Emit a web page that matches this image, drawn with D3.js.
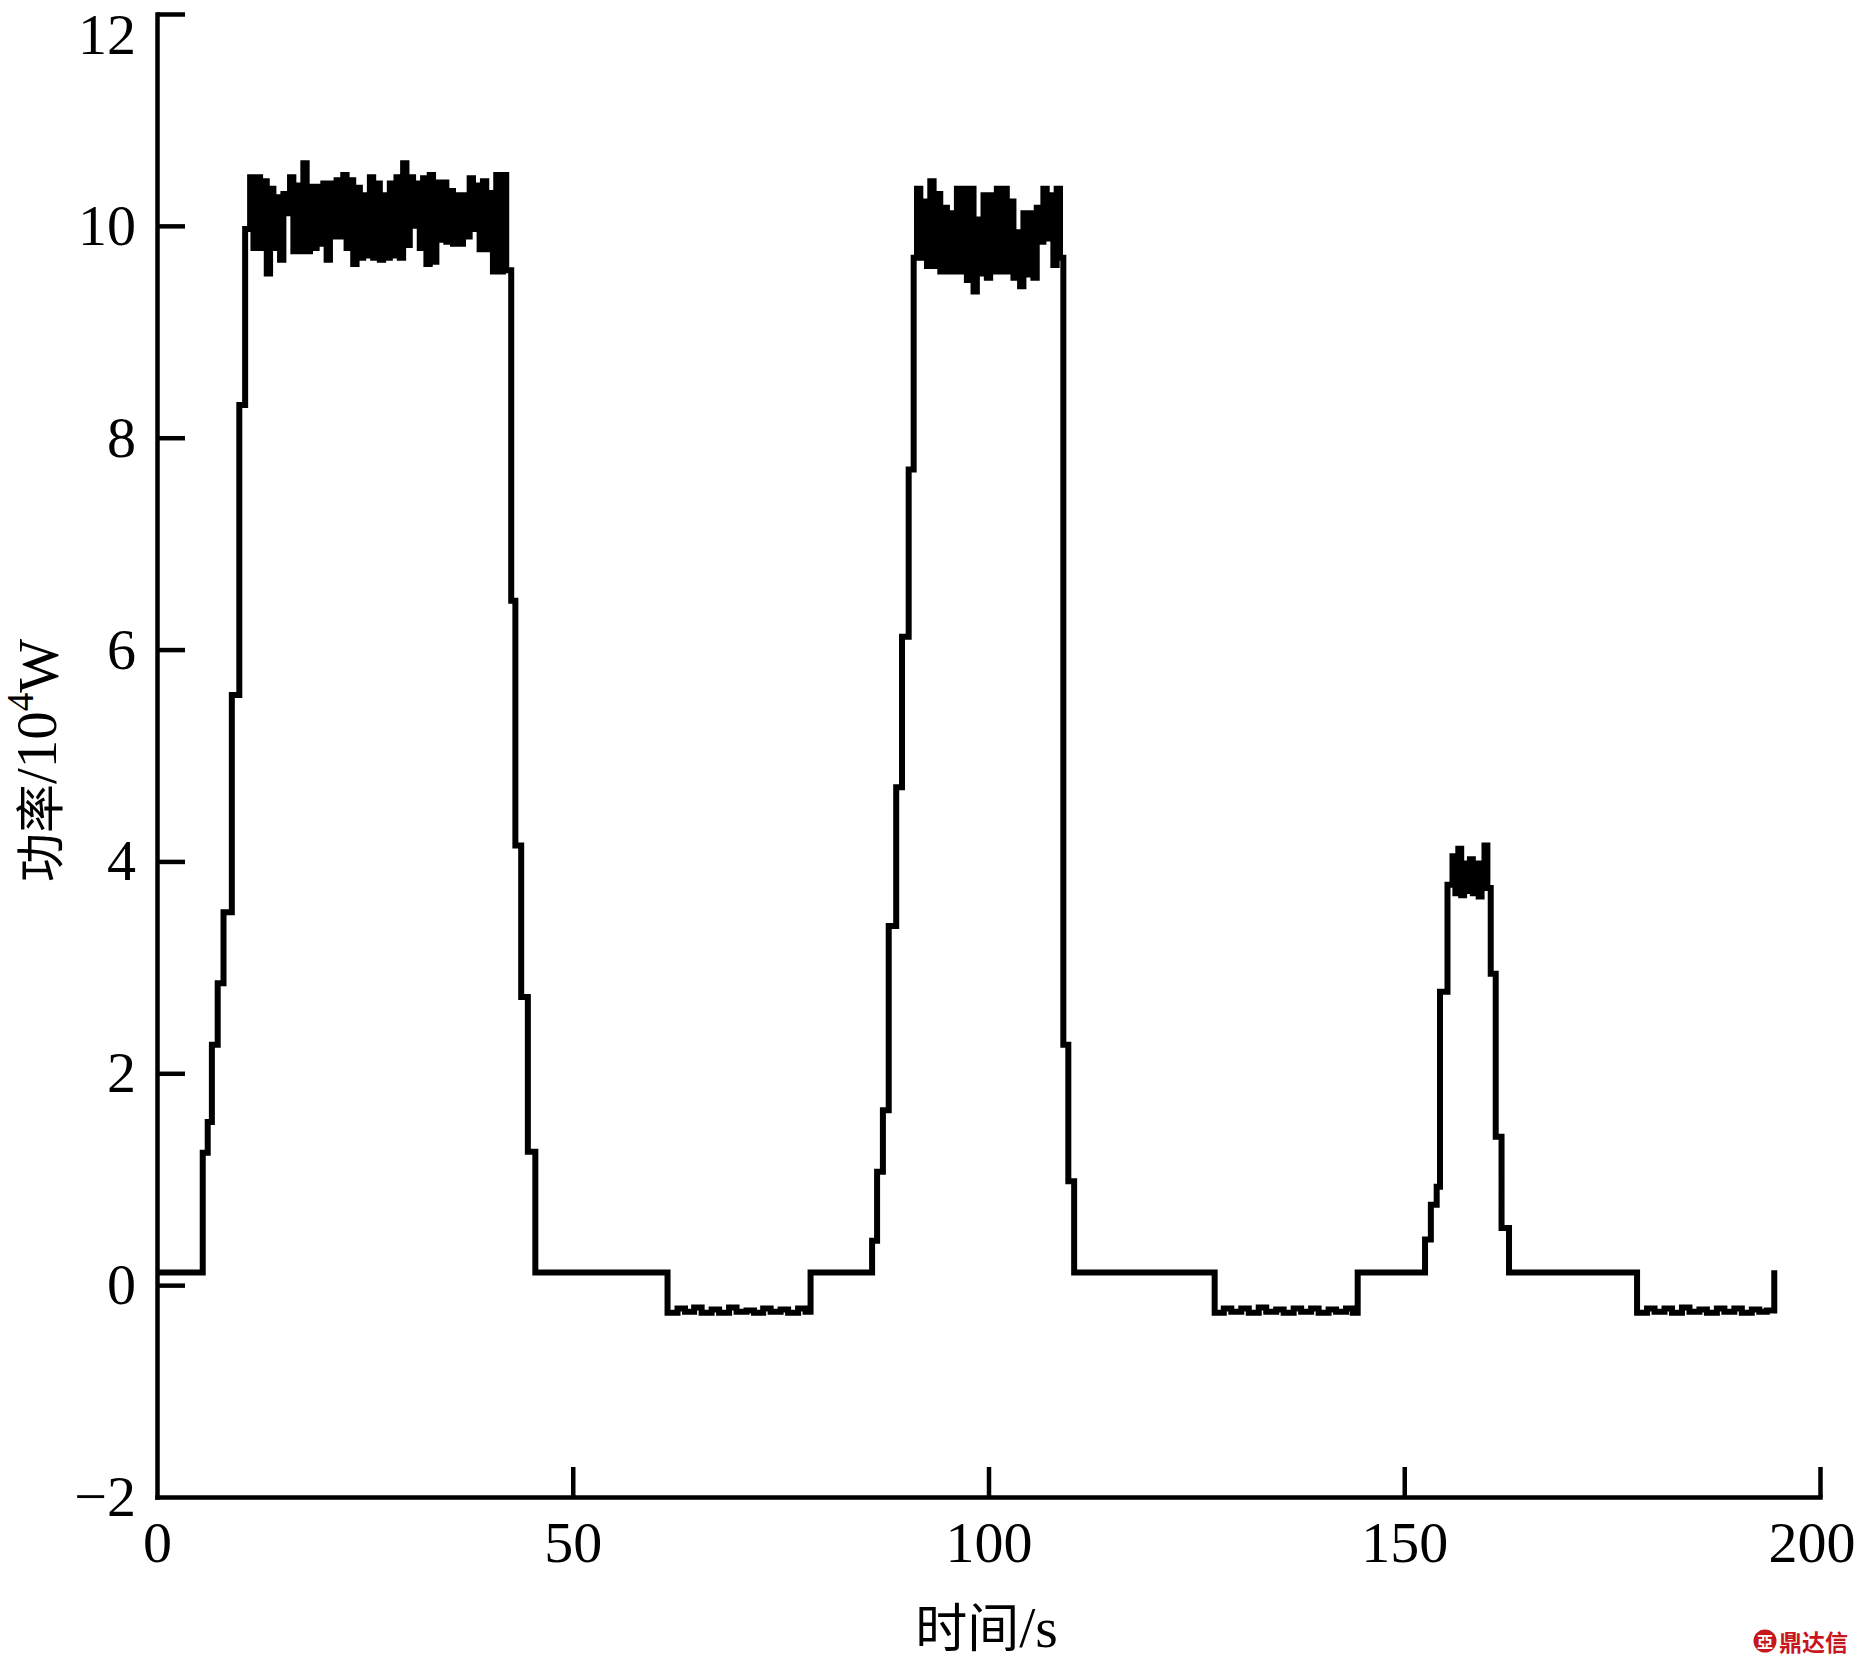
<!DOCTYPE html>
<html>
<head>
<meta charset="utf-8">
<script src="https://cdn.jsdelivr.net/npm/d3@7"></script>
<style>
  html, body { margin: 0; padding: 0; background: #fff; }
  svg { display: block; }
</style>
</head>
<body>
<svg id="chart" width="1857" height="1663"></svg>
<script>
// ---- data (time in s, power in 10^4 W) ----
const xTickValues = [0, 50, 100, 150, 200];
const yTickValues = [-2, 0, 2, 4, 6, 8, 10, 12];
const xTitle = "时间/s";

const pulse1Time = [0, 5.5, 6.1, 6.6, 7.3, 8.0, 9.0, 9.9, 10.6,
  11.2, 11.6, 12.0, 12.4, 12.8, 13.2, 13.6, 14.0, 14.4, 14.8,
  15.2, 15.6, 16.0, 16.4, 16.8, 17.2, 17.6, 18.0, 18.4, 18.8,
  19.2, 19.6, 20.0, 20.4, 20.8, 21.2, 21.6, 22.0, 22.4, 22.8,
  23.2, 23.6, 24.0, 24.4, 24.8, 25.2, 25.6, 26.0, 26.4, 26.8,
  27.2, 27.6, 28.0, 28.4, 28.8, 29.2, 29.6, 30.0, 30.4, 30.8,
  31.2, 31.6, 32.0, 32.4, 32.8, 33.2, 33.6, 34.0, 34.4, 34.8,
  35.2, 35.6, 36.0, 36.4, 36.8, 37.2, 37.6, 38.0, 38.4, 38.8,
  39.2, 39.6, 40.0, 40.4, 40.8, 41.2, 41.6,
  42.0, 42.6, 43.1, 43.8, 44.6, 45.5];
const pulse1Power = [0.12, 1.25, 1.54, 2.27, 2.85, 3.52, 5.57, 8.31, 9.97,
  10.46, 9.79, 10.46, 9.79, 10.42, 9.55, 10.35, 9.79, 10.27, 9.68,
  10.30, 10.12, 10.46, 9.76, 10.38, 9.76, 10.59, 9.76, 10.37, 9.79,
  10.37, 9.83, 10.40, 9.68, 10.40, 9.90, 10.43, 9.90, 10.48, 9.79,
  10.43, 9.64, 10.36, 9.70, 10.29, 9.72, 10.46, 9.70, 10.40, 9.68,
  10.29, 9.70, 10.40, 9.72, 10.46, 9.70, 10.59, 9.82, 10.46, 10.00,
  10.40, 9.79, 10.45, 9.64, 10.48, 9.66, 10.41, 9.87, 10.41, 9.85,
  10.33, 9.83, 10.29, 9.83, 10.29, 9.90, 10.45, 9.97, 10.38, 9.78,
  10.42, 9.78, 10.31, 9.57, 10.48, 9.57, 10.48,
  9.58, 6.46, 4.15, 2.72, 1.26, 0.12];

const quiet1Time = [61.4, 62.6, 63.5, 64.6, 65.5, 66.7, 67.6, 68.8, 69.7, 70.9, 71.8, 72.9, 73.8, 75.0, 75.9, 77.1, 78.0, 78.6];
const quiet1Power = [-0.26, -0.22, -0.25, -0.21, -0.26, -0.23, -0.26, -0.21, -0.25, -0.24, -0.26, -0.22, -0.25, -0.23, -0.26, -0.22, -0.25, 0.12];

const pulse2Time = [86.0, 86.6, 87.3, 88.0, 88.9, 89.6, 90.4, 91.0,
  91.4, 91.8, 92.2, 92.6, 93.0, 93.4, 93.8, 94.2, 94.6, 95.0,
  95.4, 95.8, 96.2, 96.6, 97.0, 97.4, 97.8, 98.2, 98.6, 99.0,
  99.4, 99.8, 100.2, 100.6, 101.0, 101.4, 101.8, 102.2, 102.6, 103.0,
  103.4, 103.8, 104.2, 104.6, 105.0, 105.4, 105.8, 106.2, 106.6, 107.0,
  107.4, 107.8, 108.2, 108.6,
  109.0, 109.6, 110.3];
const pulse2Power = [0.42, 1.07, 1.65, 3.39, 4.70, 6.12, 7.70, 9.70,
  10.35, 9.70, 10.23, 9.62, 10.42, 9.62, 10.30, 9.57, 10.17, 9.57,
  10.12, 9.57, 10.35, 9.57, 10.35, 9.49, 10.35, 9.38, 10.06, 9.55,
  10.29, 9.51, 10.29, 9.57, 10.35, 9.57, 10.35, 9.57, 10.23, 9.51,
  9.94, 9.43, 10.12, 9.54, 10.12, 9.51, 10.17, 9.85, 10.35, 9.88,
  10.29, 9.63, 10.35, 9.70,
  2.27, 0.98, 0.12];

const quiet2Time = [127.2, 128.3, 129.2, 130.4, 131.3, 132.5, 133.4, 134.6, 135.5, 136.7, 137.6, 138.8, 139.7, 140.9, 141.8, 143.0, 143.8, 144.4];
const quiet2Power = [-0.26, -0.22, -0.25, -0.22, -0.26, -0.21, -0.25, -0.23, -0.26, -0.22, -0.25, -0.22, -0.26, -0.23, -0.25, -0.22, -0.26, 0.12];

const pulse3Time = [152.5, 153.2, 153.9, 154.3, 155.2, 155.8, 156.15, 156.5, 156.85, 157.2, 157.55, 157.9, 158.25, 158.6, 158.95, 159.3, 159.65, 160.0, 160.4, 161.0, 161.7, 162.6];
const pulse3Power = [0.43, 0.76, 0.93, 2.77, 3.78, 4.05, 3.70, 4.12, 3.68, 3.98, 3.72, 4.02, 3.70, 3.98, 3.67, 3.96, 4.15, 3.75, 2.94, 1.40, 0.54, 0.12];

const quiet3Time = [178.0, 179.2, 180.1, 181.3, 182.2, 183.4, 184.3, 185.5, 186.4, 187.6, 188.5, 189.7, 190.6, 191.8, 192.7, 193.6, 194.5];
const quiet3Power = [-0.26, -0.22, -0.25, -0.22, -0.26, -0.21, -0.25, -0.23, -0.26, -0.22, -0.25, -0.22, -0.26, -0.23, -0.25, -0.24, 0.14];

// ---- build series ----
const segments = [
  [pulse1Time, pulse1Power], [quiet1Time, quiet1Power],
  [pulse2Time, pulse2Power], [quiet2Time, quiet2Power],
  [pulse3Time, pulse3Power], [quiet3Time, quiet3Power]
];
const series = [];
segments.forEach(([ts, ps]) => {
  const n = Math.min(ts.length, ps.length);
  for (let i = 0; i < n; i++) series.push({ t: ts[i], p: ps[i] });
});

// ---- layout ----
const svg = d3.select("#chart");
const x = d3.scaleLinear().domain([0, 200]).range([157, 1820]);
const y = d3.scaleLinear().domain([-2, 12]).range([1497, 14]);

const serif = "'Liberation Serif', 'Times New Roman', 'Noto Sans CJK SC', serif";
const axisW = 4.5;

// data line
const line = d3.line()
  .x(d => x(d.t))
  .y(d => y(d.p))
  .curve(d3.curveStepAfter);

svg.append("path")
  .datum(series)
  .attr("d", line)
  .attr("fill", "none")
  .attr("stroke", "#000")
  .attr("stroke-width", 6)
  .attr("stroke-linejoin", "miter")
  .attr("stroke-linecap", "butt");

// y axis
const yAxis = d3.axisLeft(y)
  .tickValues(yTickValues)
  .tickSizeInner(-28)
  .tickSizeOuter(0)
  .tickPadding(21)
  .tickFormat(d3.format("d"));
const gy = svg.append("g").attr("transform", `translate(${x(0)},0)`).call(yAxis);

// x axis
const xAxis = d3.axisBottom(x)
  .tickValues(xTickValues)
  .tickSizeInner(-30)
  .tickSizeOuter(0)
  .tickPadding(24)
  .tickFormat(d3.format("d"));
const gx = svg.append("g").attr("transform", `translate(0,${y(-2)})`).call(xAxis);

[gx, gy].forEach(g => {
  g.select(".domain").attr("stroke", "#000").attr("stroke-width", axisW).attr("stroke-linecap", "square");
  g.selectAll(".tick line").attr("stroke", "#000").attr("stroke-width", axisW);
  g.selectAll(".tick text")
    .attr("fill", "#000")
    .style("font-family", serif)
    .style("font-size", "58px");
});
// keep edge labels inside the page
gy.selectAll(".tick").filter(d => d === 12).select("text").attr("dy", "0.68em");
gx.selectAll(".tick").filter(d => d === 200).select("text").attr("text-anchor", "end").attr("x", 1855 - x(200));
// hide the y tick mark at -2 and x tick mark at 0 (they coincide with the axes)
gy.selectAll(".tick").filter(d => d === -2).select("line").remove();
gx.selectAll(".tick").filter(d => d === 0).select("line").remove();

// y axis title
const yt = svg.append("text")
  .attr("transform", `translate(36,${(y(12) + y(-2)) / 2 + 5}) rotate(-90)`)
  .attr("text-anchor", "middle")
  .attr("dominant-baseline", "central")
  .style("font-family", serif)
  .style("font-size", "57px")
  .attr("fill", "#000");
yt.append("tspan").style("font-family", "'Noto Sans CJK SC', sans-serif").style("font-size", "49px").text("功率");
yt.append("tspan").text("/10");
yt.append("tspan").attr("dy", "-0.42em").style("font-size", "37px").text("4");
yt.append("tspan").attr("dy", "0.3em").text("W");

// x axis title
const xt = svg.append("text")
  .attr("x", x(100) - 2)
  .attr("y", 1647)
  .attr("text-anchor", "middle")
  .style("font-family", serif)
  .style("font-size", "58px")
  .attr("fill", "#000");
xt.append("tspan").style("font-family", "'Noto Sans CJK SC', sans-serif").style("font-size", "52px").text(xTitle.slice(0, 2));
xt.append("tspan").text(xTitle.slice(2));

// watermark
const wm = svg.append("g");
wm.append("circle").attr("cx", 1765).attr("cy", 1641).attr("r", 11.5).attr("fill", "#c8161d");
wm.append("text").attr("x", 1765).attr("y", 1648).attr("text-anchor", "middle")
  .style("font-family", "'Noto Sans CJK SC', sans-serif").style("font-size", "16px").style("font-weight", "bold")
  .attr("fill", "#fff").text("亞");
wm.append("text").attr("x", 1779).attr("y", 1651)
  .style("font-family", "'Noto Sans CJK SC', sans-serif").style("font-size", "23px").style("font-weight", "bold")
  .attr("fill", "#c8161d").text("鼎达信");
</script>
</body>
</html>
